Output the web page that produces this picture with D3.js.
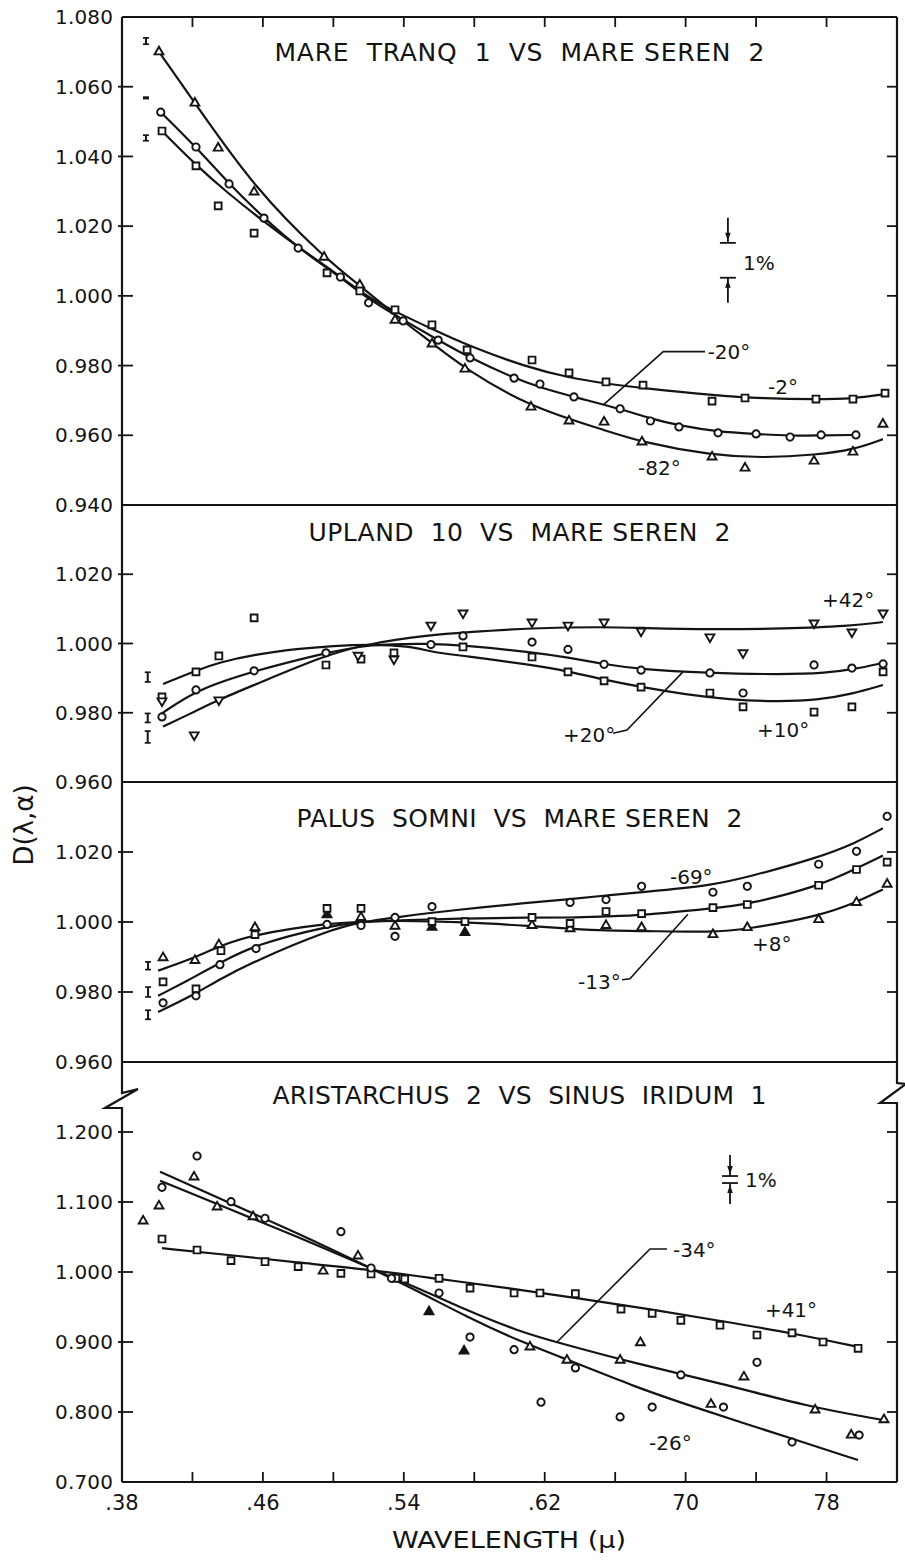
<!DOCTYPE html>
<html><head><meta charset="utf-8">
<script src="https://cdn.jsdelivr.net/npm/d3@7"></script>
<style>
body{margin:0;background:#fff}
text{font-family:"DejaVu Sans",sans-serif;fill:#141414}
.title{white-space:pre}
</style>
</head><body>
<svg id="chart" width="905" height="1560"></svg>
<script>
// ---------------- DATA ----------------
const xDomain = [0.38, 0.82];
const xTickValues = [0.42,0.46,0.50,0.54,0.58,0.62,0.66,0.70,0.74,0.78];
const xLabelValues = [0.38,0.46,0.54,0.62,0.70,0.78];
const xLabelTexts = [".38",".46",".54",".62","70","78"];

// Panel 1: MARE TRANQ 1 vs MARE SEREN 2
const p1Title = "MARE  TRANQ  1  VS  MARE SEREN  2";
const p1Domain = [0.94, 1.08];
const p1TickValues = [1.06,1.04,1.02,1.00,0.98,0.96];
const p1LabelValues = [1.08,1.06,1.04,1.02,1.00,0.98,0.96,0.94];
const p1LabelTexts = ["1.080","1.060","1.040","1.020","1.000","0.980","0.960","0.940"];
const p1Triangles = [[0.401,1.070],[0.4214,1.0553],[0.4346,1.0424],[0.455,1.0298],[0.4947,1.0111],[0.515,1.0031],[0.535,0.993],[0.556,0.9862],[0.5747,0.979],[0.6122,0.9681],[0.6338,0.9641],[0.6537,0.9638],[0.6752,0.9581],[0.715,0.9538],[0.7337,0.9506],[0.7729,0.9526],[0.795,0.9552],[0.812,0.9632]];
const p1Circles = [[0.402,1.0527],[0.422,1.0427],[0.4408,1.0321],[0.4606,1.0223],[0.480,1.0137],[0.504,1.0054],[0.520,0.998],[0.5396,0.9928],[0.5595,0.9873],[0.5776,0.9822],[0.6026,0.9764],[0.6173,0.9747],[0.6366,0.971],[0.6628,0.9676],[0.680,0.9641],[0.6962,0.9624],[0.7184,0.9607],[0.740,0.9604],[0.7593,0.9595],[0.7769,0.9601],[0.7967,0.9601]];
const p1Squares = [[0.4027,1.0473],[0.422,1.0373],[0.4346,1.0258],[0.455,1.018],[0.4964,1.0066],[0.515,1.0014],[0.535,0.996],[0.556,0.9917],[0.5759,0.9845],[0.6128,0.9816],[0.6338,0.9779],[0.6548,0.9753],[0.6758,0.9744],[0.715,0.9698],[0.7337,0.9707],[0.774,0.9704],[0.795,0.9704],[0.8132,0.9721]];
const p1CurveTri = [[0.401,1.070],[0.4214,1.0553],[0.455,1.031],[0.4947,1.011],[0.515,1.003],[0.535,0.9945],[0.556,0.9865],[0.575,0.979],[0.612,0.968],[0.654,0.9615],[0.675,0.958],[0.715,0.9542],[0.745,0.9535],[0.774,0.9544],[0.795,0.9558],[0.812,0.9589]];
const p1CurveCircle = [[0.402,1.0527],[0.422,1.0427],[0.4408,1.0321],[0.4606,1.0223],[0.480,1.0137],[0.504,1.0054],[0.520,0.999],[0.540,0.993],[0.5595,0.9873],[0.5776,0.9822],[0.6026,0.9764],[0.6173,0.9737],[0.6366,0.971],[0.6628,0.9676],[0.680,0.9648],[0.6962,0.9628],[0.7184,0.961],[0.740,0.9604],[0.7593,0.9598],[0.7769,0.960],[0.7967,0.9601]];
const p1CurveSquare = [[0.4027,1.0473],[0.422,1.0375],[0.44,1.0295],[0.46,1.0215],[0.48,1.014],[0.50,1.007],[0.52,0.9995],[0.535,0.9955],[0.556,0.9905],[0.576,0.9858],[0.61,0.9795],[0.634,0.9765],[0.655,0.9748],[0.676,0.9735],[0.715,0.9715],[0.745,0.9705],[0.774,0.9703],[0.795,0.9705],[0.813,0.9718]];
const p1ErrorBars = [[0.3936,1.0731,0.0009],[0.3936,1.0568,0.0002],[0.3936,1.0453,0.0008]];
const p1Notes = [["-20°",0.7125,0.984],["-2°",0.7468,0.9739],["-82°",0.673,0.9506]];
const p1Leader = [[0.6533,0.9687],[0.6873,0.984],[0.711,0.984]];
const p1OnePercent = {x:0.724, upper:1.0152, lower:1.0052, arm:0.0072, labelX:0.7326, labelV:1.0094};

// Panel 2: UPLAND 10 vs MARE SEREN 2
const p2Title = "UPLAND  10  VS  MARE SEREN  2";
const p2Domain = [0.96, 1.04];
const p2TickValues = [1.02,1.00,0.98];
const p2LabelValues = [1.02,1.00,0.98,0.96];
const p2LabelTexts = ["1.020","1.000","0.980","0.960"];
const p2Squares = [[0.4027,0.9846],[0.422,0.9918],[0.435,0.9964],[0.455,1.0074],[0.4958,0.9938],[0.5157,0.9955],[0.5344,0.9973],[0.5736,0.999],[0.6128,0.9961],[0.6332,0.9918],[0.6537,0.9892],[0.6747,0.9874],[0.7138,0.9857],[0.7326,0.9817],[0.7729,0.9802],[0.7944,0.9817],[0.8121,0.9918]];
const p2Circles = [[0.4027,0.9788],[0.422,0.9866],[0.455,0.9921],[0.4958,0.9973],[0.5554,0.9997],[0.5736,1.0022],[0.6128,1.0004],[0.6332,0.9983],[0.6537,0.994],[0.6747,0.9923],[0.7138,0.9915],[0.7326,0.9857],[0.7729,0.9938],[0.7944,0.9929],[0.8121,0.9941]];
const p2TrianglesDown = [[0.4027,0.9834],[0.421,0.9736],[0.435,0.9837],[0.514,0.9966],[0.5344,0.9955],[0.5554,1.0053],[0.5736,1.0088],[0.6128,1.0062],[0.6332,1.0053],[0.6537,1.0062],[0.6747,1.0036],[0.7138,1.0019],[0.7326,0.9973],[0.7729,1.0059],[0.7944,1.0033],[0.8121,1.0088]];
const p2CurveSquare = [[0.4033,0.9883],[0.422,0.9922],[0.435,0.9945],[0.455,0.9968],[0.48,0.9985],[0.50,0.9993],[0.52,0.9998],[0.545,0.9992],[0.5556,0.9975],[0.5736,0.9965],[0.6128,0.9938],[0.633,0.992],[0.654,0.9895],[0.675,0.9874],[0.700,0.9853],[0.725,0.9838],[0.75,0.9832],[0.775,0.9836],[0.795,0.9855],[0.812,0.988]];
const p2CurveCircle = [[0.4027,0.9798],[0.422,0.9866],[0.455,0.9921],[0.4958,0.9973],[0.52,0.9998],[0.5556,1.000],[0.5736,0.9995],[0.6128,0.9975],[0.633,0.996],[0.654,0.994],[0.675,0.9925],[0.711,0.9915],[0.755,0.991],[0.78,0.9915],[0.795,0.9925],[0.812,0.9944]];
const p2CurveTri = [[0.4033,0.976],[0.422,0.9805],[0.435,0.9838],[0.455,0.988],[0.4958,0.9967],[0.52,1.000],[0.5556,1.0025],[0.5736,1.0032],[0.6128,1.0045],[0.654,1.0048],[0.675,1.0045],[0.714,1.004],[0.7555,1.0043],[0.793,1.005],[0.812,1.0062]];
const p2ErrorBars = [[0.3946,0.9903,0.0014],[0.3946,0.9785,0.0013],[0.3946,0.973,0.0017]];
const p2Notes = [["+42°",0.7774,1.0126],["+20°",0.6304,0.9736],["+10°",0.7405,0.975]];
const p2Leader = [[0.6588,0.9741],[0.6667,0.975],[0.6985,0.9918]];

// Panel 3: PALUS SOMNI vs MARE SEREN 2
const p3Title = "PALUS  SOMNI  VS  MARE SEREN  2";
const p3Domain = [0.96, 1.04];
const p3TickValues = [1.02,1.00,0.98];
const p3LabelValues = [1.02,1.00,0.98,0.96];
const p3LabelTexts = ["1.020","1.000","0.980","0.960"];
const p3Triangles = [[0.4033,0.9898],[0.4214,0.989],[0.435,0.9935],[0.4555,0.9984],[0.5157,1.0013],[0.535,0.9988],[0.6128,0.999],[0.6344,0.9981],[0.6548,0.999],[0.675,0.9984],[0.7155,0.9964],[0.735,0.9984],[0.7755,1.0007],[0.797,1.0056],[0.8144,1.0108]];
const p3TrianglesFilled = [[0.4964,1.0021],[0.556,0.9985],[0.5747,0.997]];
const p3Squares = [[0.4033,0.9829],[0.422,0.9809],[0.4362,0.9918],[0.4555,0.9964],[0.4964,1.0039],[0.5157,1.0039],[0.556,1.0001],[0.5747,1.0001],[0.6128,1.0013],[0.6344,0.9996],[0.6548,1.003],[0.675,1.0024],[0.7155,1.0041],[0.735,1.005],[0.7755,1.0105],[0.797,1.015],[0.8144,1.0171]];
const p3Circles = [[0.4033,0.9769],[0.422,0.9789],[0.4356,0.9878],[0.4561,0.9924],[0.4964,0.9993],[0.5157,0.999],[0.535,1.0013],[0.535,0.9959],[0.556,1.0044],[0.6344,1.0056],[0.6548,1.0064],[0.675,1.0102],[0.7155,1.0085],[0.735,1.0102],[0.7755,1.0165],[0.797,1.0202],[0.8144,1.0302]];
const p3CurveTri = [[0.4005,0.9861],[0.42,0.9895],[0.4356,0.9932],[0.4555,0.9965],[0.4964,0.9996],[0.5157,1.0001],[0.535,1.0004],[0.5747,1.000],[0.6128,0.9988],[0.6344,0.9981],[0.655,0.9975],[0.675,0.9975],[0.7155,0.997],[0.735,0.998],[0.7755,1.0016],[0.797,1.0056],[0.812,1.0093]];
const p3CurveSquare = [[0.4005,0.9789],[0.42,0.9840],[0.4362,0.9885],[0.4555,0.9935],[0.4964,0.9988],[0.5157,1.000],[0.535,1.0005],[0.5747,1.001],[0.6128,1.0013],[0.6344,1.0012],[0.655,1.0016],[0.675,1.0019],[0.7155,1.0039],[0.735,1.005],[0.7755,1.0102],[0.797,1.0153],[0.812,1.019]];
const p3CurveCircle = [[0.4005,0.9743],[0.42,0.9790],[0.4356,0.9837],[0.4561,0.9890],[0.4964,0.9975],[0.5157,1.000],[0.535,1.0013],[0.5662,1.0033],[0.6128,1.0056],[0.6344,1.0065],[0.655,1.0076],[0.675,1.0085],[0.7155,1.0105],[0.735,1.0128],[0.7755,1.0184],[0.797,1.0227],[0.812,1.0268]];
const p3ErrorBars = [[0.3948,0.9875,0.0011],[0.3948,0.980,0.0014],[0.3948,0.9735,0.0013]];
const p3Notes = [["-69°",0.6911,1.013],["-13°",0.6389,0.9829],["+8°",0.7377,0.9938]];
const p3Leader = [[0.6639,0.9835],[0.6684,0.9838],[0.7013,1.0022]];

// Panel 4: ARISTARCHUS 2 vs SINUS IRIDUM 1
const p4Title = "ARISTARCHUS  2  VS  SINUS  IRIDUM  1";
const p4Domain = [0.70, 1.30];
const p4TickValues = [1.2,1.1,1.0,0.9,0.8];
const p4LabelValues = [1.2,1.1,1.0,0.9,0.8,0.7];
const p4LabelTexts = ["1.200","1.100","1.000","0.900","0.800","0.700"];
const p4Squares = [[0.4027,1.0471],[0.4226,1.0314],[0.4419,1.0162],[0.4612,1.0147],[0.48,1.0076],[0.5043,0.998],[0.5214,0.9971],[0.5355,0.991],[0.5405,0.990],[0.56,0.991],[0.5776,0.977],[0.6026,0.970],[0.6173,0.970],[0.6374,0.969],[0.6633,0.947],[0.681,0.941],[0.6973,0.931],[0.7195,0.924],[0.7405,0.910],[0.7604,0.913],[0.778,0.900],[0.7979,0.891]];
const p4Circles = [[0.4027,1.121],[0.4226,1.1657],[0.4419,1.1005],[0.4612,1.0767],[0.5043,1.0576],[0.5214,1.0057],[0.533,0.991],[0.56,0.970],[0.5776,0.907],[0.6026,0.889],[0.6179,0.814],[0.6374,0.863],[0.6628,0.793],[0.681,0.807],[0.6973,0.853],[0.7215,0.807],[0.7405,0.871],[0.7604,0.757],[0.7985,0.767]];
const p4Triangles = [[0.392,1.0729],[0.401,1.0943],[0.4209,1.1357],[0.434,1.0929],[0.4544,1.079],[0.4942,1.0014],[0.514,1.0229],[0.6116,0.893],[0.6326,0.874],[0.6628,0.874],[0.6743,0.899],[0.7144,0.811],[0.7331,0.850],[0.7735,0.803],[0.794,0.767],[0.8126,0.789]];
const p4TrianglesFilled = [[0.5543,0.9433],[0.5742,0.887]];
const p4CurveSquare = [[0.4027,1.034],[0.44,1.0245],[0.48,1.0135],[0.52,1.0035],[0.56,0.990],[0.60,0.977],[0.64,0.962],[0.68,0.947],[0.72,0.930],[0.76,0.913],[0.798,0.893]];
const p4CurveCircle = [[0.4016,1.1433],[0.44,1.100],[0.48,1.055],[0.52,1.007],[0.55,0.970],[0.575,0.937],[0.6056,0.901],[0.6384,0.8695],[0.671,0.8362],[0.7039,0.8076],[0.7628,0.760],[0.7979,0.7314]];
const p4CurveTri = [[0.4016,1.1305],[0.44,1.091],[0.48,1.050],[0.52,1.0065],[0.55,0.975],[0.575,0.946],[0.6056,0.915],[0.6269,0.8995],[0.671,0.8695],[0.7203,0.841],[0.7693,0.8076],[0.812,0.7886]];
const p4Notes = [["-34°",0.6928,1.0314],["+41°",0.745,0.9457],["-26°",0.6792,0.7557]];
const p4Leader = [[0.627,0.900],[0.6798,1.0329],[0.6894,1.0329]];
const p4OnePercent = {x:0.7252, upper:1.1371, lower:1.1271, arm:0.030, labelX:0.7337, labelV:1.1314};

// ---------------- LAYOUT ----------------
const svg = d3.select("#chart");
const L = 122, R = 897;
const x = d3.scaleLinear(xDomain, [L, R]);
const ink = "#141414";

const panels = [
  {top:17, bottom:505, domain:p1Domain, ticks:p1TickValues, lv:p1LabelValues, lt:p1LabelTexts, title:p1Title, tdy:35, tlen:490,
   series:[[p1Triangles,"triUp",false],[p1Circles,"circle",false],[p1Squares,"square",false]],
   curves:[p1CurveTri,p1CurveCircle,p1CurveSquare], errs:p1ErrorBars, notes:p1Notes, leader:p1Leader, pct:p1OnePercent},
  {top:505, bottom:782, domain:p2Domain, ticks:p2TickValues, lv:p2LabelValues, lt:p2LabelTexts, title:p2Title, tdy:27, tlen:422,
   series:[[p2Squares,"square",false],[p2Circles,"circle",false],[p2TrianglesDown,"triDown",false]],
   curves:[p2CurveSquare,p2CurveCircle,p2CurveTri], errs:p2ErrorBars, notes:p2Notes, leader:p2Leader},
  {top:782, bottom:1062, domain:p3Domain, ticks:p3TickValues, lv:p3LabelValues, lt:p3LabelTexts, title:p3Title, tdy:36, tlen:446,
   series:[[p3Triangles,"triUp",false],[p3TrianglesFilled,"triUp",true],[p3Squares,"square",false],[p3Circles,"circle",false]],
   curves:[p3CurveTri,p3CurveSquare,p3CurveCircle], errs:p3ErrorBars, notes:p3Notes, leader:p3Leader},
  {top:1062, bottom:1482, domain:p4Domain, ticks:p4TickValues, lv:p4LabelValues, lt:p4LabelTexts, title:p4Title, tdy:33, tlen:494,
   series:[[p4Squares,"square",false],[p4Circles,"circle",false],[p4Triangles,"triUp",false],[p4TrianglesFilled,"triUp",true]],
   curves:[p4CurveSquare,p4CurveCircle,p4CurveTri], errs:[], notes:p4Notes, leader:p4Leader, pct:p4OnePercent}
];

const symbols = {
  circle: d3.symbol(d3.symbolCircle, 42),
  square: d3.symbol(d3.symbolSquare, 46),
  triUp: d3.symbol(d3.symbolTriangle, 34),
  triDown: d3.symbol(d3.symbolTriangle, 34)
};

const line = d3.line().curve(d3.curveBasis);

panels.forEach((p, i) => {
  const y = d3.scaleLinear(p.domain, [p.bottom, p.top]);
  const g = svg.append("g");
  line.x(d => x(d[0])).y(d => y(d[1]));

  g.append("line").attr("x1", L).attr("x2", R).attr("y1", p.top).attr("y2", p.top)
    .attr("stroke", ink).attr("stroke-width", 2.2);
  if (i === panels.length - 1)
    g.append("line").attr("x1", L).attr("x2", R).attr("y1", p.bottom).attr("y2", p.bottom)
      .attr("stroke", ink).attr("stroke-width", 2.2);

  p.ticks.forEach(t => {
    g.append("line").attr("x1", L - 4).attr("x2", L + 11).attr("y1", y(t)).attr("y2", y(t)).attr("stroke", ink).attr("stroke-width", 1.8);
    g.append("line").attr("x1", R - 10).attr("x2", R).attr("y1", y(t)).attr("y2", y(t)).attr("stroke", ink).attr("stroke-width", 1.8);
  });
  p.lv.forEach((v, k) => {
    g.append("text").attr("x", 113).attr("y", y(v)).attr("dy", "0.36em")
      .attr("text-anchor", "end").attr("font-size", 20).attr("textLength", 58).text(p.lt[k]);
  });
  g.append("text").attr("class", "title").attr("x", (L + R) / 2 + 10).attr("y", p.top + p.tdy)
    .attr("dy", "0.36em").attr("text-anchor", "middle").attr("font-size", 25)
    .attr("textLength", p.tlen).attr("lengthAdjust", "spacing").text(p.title);

  p.curves.forEach(c => {
    g.append("path").attr("d", line(c)).attr("fill", "none").attr("stroke", ink).attr("stroke-width", 2.2);
  });

  p.series.forEach(([pts, shape, filled]) => {
    g.selectAll(null).data(pts).join("path")
      .attr("d", symbols[shape])
      .attr("transform", d => `translate(${x(d[0])},${y(d[1])})` + (shape === "triDown" ? " rotate(180)" : ""))
      .attr("fill", filled ? ink : "#fff").attr("stroke", ink).attr("stroke-width", 1.9);
  });

  p.errs.forEach(([xv, v, h]) => {
    const cx = x(xv), y1 = y(v + h), y2 = y(v - h);
    g.append("line").attr("x1", cx).attr("x2", cx).attr("y1", y1).attr("y2", y2).attr("stroke", ink).attr("stroke-width", 2);
    [y1, y2].forEach(yy => g.append("line").attr("x1", cx - 3).attr("x2", cx + 3).attr("y1", yy).attr("y2", yy).attr("stroke", ink).attr("stroke-width", 1.7));
  });

  p.notes.forEach(([t, xv, v]) => {
    g.append("text").attr("x", x(xv)).attr("y", y(v)).attr("dy", "0.36em").attr("font-size", 20).text(t);
  });
  g.append("path").attr("d", d3.line().x(d => x(d[0])).y(d => y(d[1]))(p.leader))
    .attr("fill", "none").attr("stroke", ink).attr("stroke-width", 1.6);

  if (p.pct) {
    const q = p.pct, cx = x(q.x), yu = y(q.upper), yl = y(q.lower);
    const arm = Math.max(20, Math.abs(y(q.upper + q.arm) - yu));
    g.append("line").attr("x1", cx - 8).attr("x2", cx + 8).attr("y1", yu).attr("y2", yu).attr("stroke", ink).attr("stroke-width", 1.8);
    g.append("line").attr("x1", cx - 8).attr("x2", cx + 8).attr("y1", yl).attr("y2", yl).attr("stroke", ink).attr("stroke-width", 1.8);
    g.append("line").attr("x1", cx).attr("x2", cx).attr("y1", yu - arm).attr("y2", yu).attr("stroke", ink).attr("stroke-width", 1.8);
    g.append("line").attr("x1", cx).attr("x2", cx).attr("y1", yl).attr("y2", yl + arm).attr("stroke", ink).attr("stroke-width", 1.8);
    g.append("path").attr("d", `M${cx-2.8},${yu-10}L${cx+2.8},${yu-10}L${cx},${yu-2}Z`).attr("fill", ink);
    g.append("path").attr("d", `M${cx-2.8},${yl+10}L${cx+2.8},${yl+10}L${cx},${yl+2}Z`).attr("fill", ink);
    g.append("text").attr("x", x(q.labelX)).attr("y", y(q.labelV)).attr("dy", "0.36em").attr("font-size", 20).text("1%");
  }
});

const top0 = panels[0].top, p4 = panels[3];
svg.append("path").attr("d", `M${L},${top0}V${p4.top + 31}L${L + 16},${p4.top + 27}L${L - 17},${p4.top + 46}H${L}V${p4.bottom}`)
  .attr("fill", "none").attr("stroke", ink).attr("stroke-width", 2.2);
svg.append("path").attr("d", `M${R},${top0}V${p4.top + 21}L${R + 9},${p4.top + 22}L${R - 17},${p4.top + 41}H${R}V${p4.bottom}`)
  .attr("fill", "none").attr("stroke", ink).attr("stroke-width", 2.2);

xTickValues.forEach(t => {
  svg.append("line").attr("x1", x(t)).attr("x2", x(t)).attr("y1", top0).attr("y2", top0 + 10).attr("stroke", ink).attr("stroke-width", 1.8);
  svg.append("line").attr("x1", x(t)).attr("x2", x(t)).attr("y1", p4.bottom).attr("y2", p4.bottom - 10).attr("stroke", ink).attr("stroke-width", 1.8);
});
xLabelValues.forEach((v, k) => {
  svg.append("text").attr("x", x(v)).attr("y", p4.bottom + 20).attr("dy", "0.36em")
    .attr("text-anchor", "middle").attr("font-size", 21).text(xLabelTexts[k]);
});

svg.append("text").attr("transform", "translate(24,825) rotate(-90)").attr("text-anchor", "middle")
  .attr("dy", "0.36em").attr("font-size", 26).text("D(λ,α)");
svg.append("text").attr("x", 509).attr("y", 1540).attr("dy", "0.36em").attr("text-anchor", "middle")
  .attr("font-size", 23).attr("textLength", 234).attr("lengthAdjust", "spacingAndGlyphs").text("WAVELENGTH (μ)");
</script>
</body></html>
